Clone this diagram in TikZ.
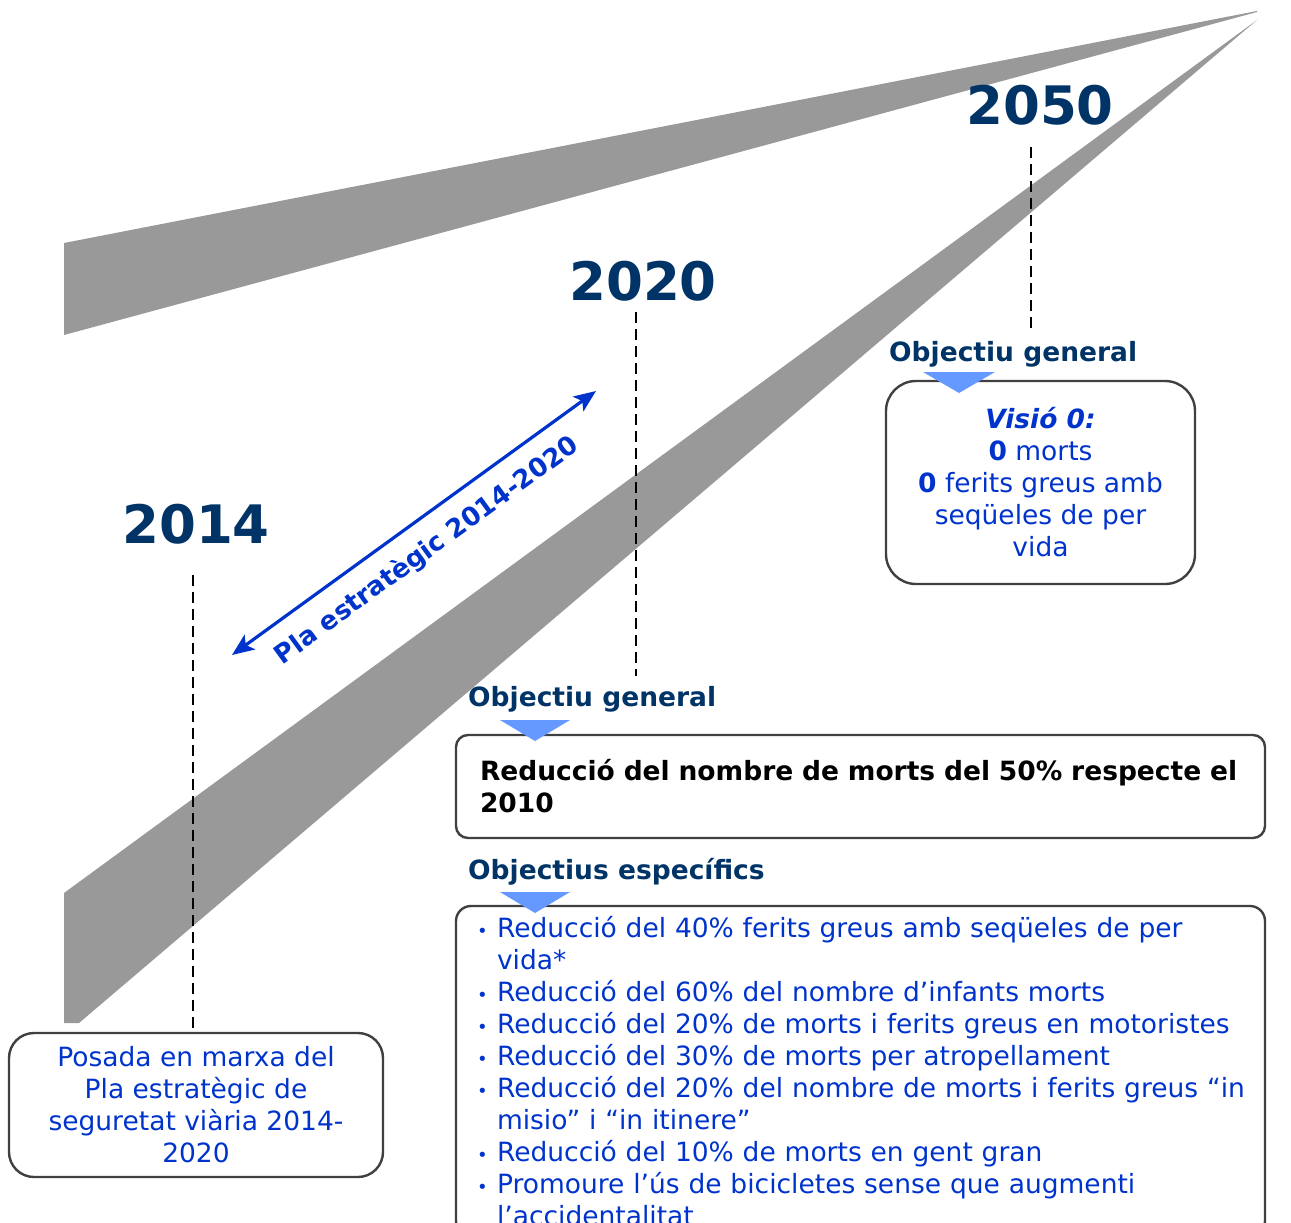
\documentclass[tikz,border=0pt]{standalone}
\usepackage{fontspec}
\setmainfont{DejaVu Sans}
\usetikzlibrary{arrows.meta}
\definecolor{navy}{RGB}{0,51,102}
\definecolor{vblue}{RGB}{0,51,204}
\definecolor{lblue}{RGB}{102,153,255}
\definecolor{roadgray}{RGB}{153,153,153}
\definecolor{framegray}{RGB}{64,64,64}
\newcommand{\bul}{\makebox[20pt][l]{\fontsize{18}{18}\selectfont\textbullet}}
\newcommand{\ind}{\hspace*{20pt}}

\begin{document}
\begin{tikzpicture}[x=1pt,y=-1pt]
\tikzset{every node/.style={inner sep=0},
  year/.style={font=\fontsize{53}{60}\selectfont\bfseries,text=navy},
  head/.style={anchor=west,font=\fontsize{26.5}{32}\selectfont\bfseries,text=navy},
  box/.style={draw=framegray,line width=2.4pt},
  txt/.style={font=\fontsize{26.5}{32}\selectfont,text=vblue},
  vline/.style={dash pattern=on 11pt off 6pt,line width=2pt},
  marker/.style={fill=lblue}}
\useasboundingbox (0,0) rectangle (1291,1223);

    \fill[roadgray] (64,243) -- (1257,11) -- (1257,12) -- (64,335) -- cycle;
    \fill[roadgray] (64,893) -- (1257,20) -- (79,1023) -- (64,1023) -- cycle;

    \node[year] (y50) at (1040,105) {2050};
    \node[year] (y20) at (643,281) {2020};
    \node[year] (y14) at (196,524) {2014};

    \node[head] (h50) at (889,354) {Objectiu general};
    \node[head] (h20g) at (468,699) {Objectiu general};
    \node[head] (h20e) at (468,872) {Objectius específics};

    \node[box,rounded corners=30pt,minimum width=309pt,minimum height=203pt,txt,align=center] (b50) at (1040.5,482.5)
        {\textbf{\textit{Visió 0:}}\\\textbf{0} morts\\\textbf{0} ferits greus amb\\seqüeles de per\\vida};
    \node[box,rounded corners=12pt,minimum width=809pt,minimum height=103pt,text width=761pt,align=left,
        font=\fontsize{26.5}{32}\selectfont\bfseries] (b20g) at (860.5,786.5)
        {Reducció del nombre de morts del 50\% respecte el\\2010};
    \node[box,rounded corners=15pt,minimum width=809pt,minimum height=330pt,text width=767pt,align=left,txt] (b20e) at (860.5,1071)
        {\bul Reducció del 40\% ferits greus amb seqüeles de per\\
         \ind vida*\\
         \bul Reducció del 60\% del nombre d’infants morts\\
         \bul Reducció del 20\% de morts i ferits greus en motoristes\\
         \bul Reducció del 30\% de morts per atropellament\\
         \mbox{\bul Reducció del 20\% del nombre de morts i ferits greus “in}\\
         \ind misio” i “in itinere”\\
         \bul Reducció del 10\% de morts en gent gran\\
         \bul Promoure l’ús de bicicletes sense que augmenti\\
         \ind l’accidentalitat};
    \node[box,rounded corners=25pt,minimum width=374pt,minimum height=144pt,txt,align=center] (b14) at (196,1105)
        {Posada en marxa del\\Pla estratègic de\\seguretat viària 2014-\\2020};

    \fill[marker] (923,372) -- (995,372) -- (959,393) -- cycle;
    \fill[marker] (500,720) -- (570,720) -- (535,741) -- cycle;
    \fill[marker] (500,892) -- (570,892) -- (535,913) -- cycle;

    \coordinate (d50a) at (1031,147);
    \coordinate (d50b) at (1031,328);
    \coordinate (d20a) at (636,312);
    \coordinate (d20b) at (636,676);
    \coordinate (d14) at (193,575);
    \draw[vline] (d50a) -- (d50b);
    \draw[vline] (d20a) -- (d20b);
    \draw[vline] (d14) -- (b14.north -| d14);

    \coordinate (pa) at (232,655);
    \coordinate (pb) at (596,391);
    \draw[vblue,line width=3.2pt,{Stealth[length=22pt,width=18pt,inset=5pt]}-{Stealth[length=22pt,width=18pt,inset=5pt]}] (pa) -- (pb);
    \node[rotate=36,font=\fontsize{26}{30}\selectfont\bfseries,text=vblue] (plab) at (427,551) {Pla estratègic 2014-2020};
\end{tikzpicture}
\end{document}
